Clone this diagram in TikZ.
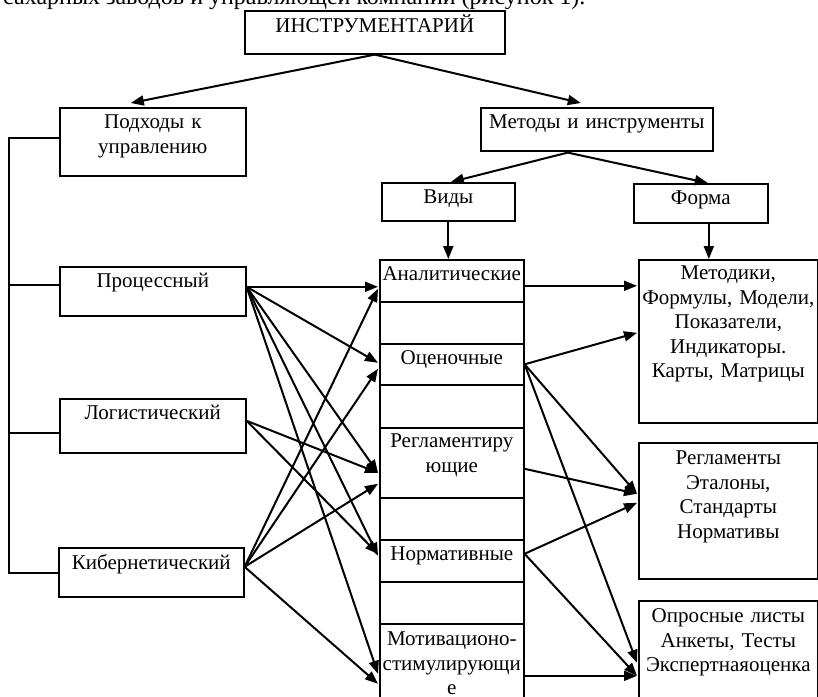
\documentclass[tikz,border=0pt]{standalone}
\usepackage{fontspec}
\setmainfont{Liberation Serif}
\usetikzlibrary{arrows.meta,calc}
\tikzset{
  bx/.style={draw, line width=1.6pt, inner sep=0pt, anchor=north west, align=center,
    font=\fontsize{21}{24.5}\selectfont},
  ebx/.style={draw, line width=1.6pt, inner sep=0pt, anchor=north west, minimum width=144pt},
  arr/.style={line width=2pt, -{Triangle[length=13pt,width=10pt]}},
  ln/.style={line width=1.6pt},
}
\begin{document}
\begin{tikzpicture}[x=1pt,y=-1pt]
\useasboundingbox (0,0) rectangle (818,696);
% cut-off caption line
\node[anchor=base west, inner sep=0pt, font=\fontsize{24}{28}\selectfont] (cap) at (3,4.5) {сахарных заводов и управляющей компании (рисунок 1).};
% top boxes
\node[bx, text width=260pt, text height=21.5pt, text depth=21.5pt] (instr) at (244,10) {ИНСТРУМЕНТАРИЙ};
\node[bx, text width=186pt, text height=21pt, text depth=47pt] (podh) at (59,107) {Подходы к\\управлению};
\node[bx, text width=232pt, text height=21pt, text depth=22pt] (meth) at (480,107) {Методы и инструменты};
\node[bx, text width=133pt, text height=21pt, text depth=17pt] (vid) at (381,182) {Виды};
\node[bx, text width=134pt, text height=21pt, text depth=18pt] (form) at (633,183) {Форма};
% approaches
\node[bx, text width=186pt, text height=21pt, text depth=28pt] (proc) at (59,266) {Процессный};
\node[bx, text width=186pt, text height=21pt, text depth=33pt] (logist) at (59,398) {Логистический};
\node[bx, text width=185pt, text height=22pt, text depth=27pt] (kib) at (58,547) {Кибернетический};
% middle column
\node[bx, text width=144pt, text height=21pt, text depth=21pt] (anal) at (379,259) {\mbox{Аналитические}};
\node[ebx, minimum height=42pt] (e1) at (379,301) {};
\node[bx, text width=144pt, text height=21pt, text depth=20pt] (ocen) at (379,343) {Оценочные};
\node[ebx, minimum height=43pt] (e2) at (379,384) {};
\node[bx, text width=144pt, text height=20pt, text depth=50pt] (regl) at (379,427) {\mbox{Регламентиру}\\ющие};
\node[ebx, minimum height=42pt] (e3) at (379,497) {};
\node[bx, text width=144pt, text height=21pt, text depth=21pt] (norm) at (379,539) {Нормативные};
\node[ebx, minimum height=42pt] (e4) at (379,581) {};
\node[bx, text width=144pt, text height=22pt, text depth=53pt] (motiv) at (379,623) {\mbox{Мотивационо-}\\\mbox{стимулирующи}\\е};
% right column
\node[bx, text width=179pt, text height=20pt, text depth=143pt] (metod) at (638,259) {Методики,\\\mbox{Формулы, Модели,}\\Показатели,\\Индикаторы.\\\mbox{Карты, Матрицы}};
\node[bx, text width=179pt, text height=22pt, text depth=114pt] (reglm) at (638,442) {Регламенты\\Эталоны,\\Стандарты\\Нормативы};
\node[bx, text width=179pt, text height=22pt, text depth=78pt] (opros) at (638,600) {\mbox{Опросные листы}\\\mbox{Анкеты, Тесты}\\\mbox{Экспертнаяоценка}};
% bus on the left
\coordinate (bustop) at (9,138);
\coordinate (busbot) at (9,573);
\draw[ln] (podh.west |- bustop) -- (bustop) -- (busbot) -- (kib.west |- busbot);
\draw[ln] ($(proc.west)+(0,-6.5)$) -- ++(-50,0);
\draw[ln] ($(logist.west)+(0,7)$) -- ++(-50,0);
% top arrows
\draw[arr] (instr.south) -- ($(podh.north)+(-22,-4)$);
\draw[arr] (instr.south) -- ($(meth.north)+(-16,-4)$);
\draw[arr] ($(meth.south)+(-29,1)$) -- ($(vid.north)+(2.5,0)$);
\draw[arr] ($(meth.south)+(-29,1)$) -- ($(form.north)+(7,0)$);
\draw[arr] (vid.south) -- (vid.south |- anal.north);
\coordinate (fs) at ($(form.south)+(8,0)$);
\draw[arr] (fs) -- (fs |- metod.north);
% from Процессный
\coordinate (po) at ($(proc.east)+(0,-4.5)$);
\draw[arr] (po) -- ($(anal.west)+(-1,6)$);
\draw[arr] (po) -- ($(ocen.west)+(-1,-1.5)$);
\draw[arr] (po) -- ($(regl.west)+(-1,10)$);
\draw[arr] (po) -- ($(norm.west)+(-1,-5)$);
\draw[arr] (po) -- ($(motiv.west)+(-1,12.5)$);
% from Логистический
\coordinate (lo) at ($(logist.east)+(0,-5)$);
\draw[arr] (lo) -- ($(regl.west)+(-1,10)$);
\draw[arr] (lo) -- ($(norm.west)+(-1,-7)$);
% from Кибернетический
\coordinate (ko) at ($(kib.east)+(0,-5.5)$);
\draw[arr] (ko) -- ($(anal.west)+(-1,8)$);
\draw[arr] (ko) -- ($(ocen.west)+(-1,4.5)$);
\draw[arr] (ko) -- ($(regl.west)+(-1,21)$);
\draw[arr] (ko) -- ($(motiv.west)+(-1,22.5)$);
% right side
\draw[arr] ($(anal.east)+(0,5)$) -- ($(metod.west)+(-1,-55.5)$);
\draw[arr] (ocen.east) -- ($(metod.west)+(-1,-8.5)$);
\draw[arr] (ocen.east) -- ($(reglm.west)+(-1,-17)$);
\draw[arr] (ocen.east) -- ($(opros.west)+(-1,12)$);
\draw[arr] ($(regl.east)+(0,6)$) -- ($(reglm.west)+(-1,-17)$);
\draw[arr] ($(norm.east)+(0,-7)$) -- ($(reglm.west)+(-1,-8)$);
\draw[arr] ($(norm.east)+(0,-7)$) -- ($(opros.west)+(-1,25)$);
\draw[arr] ($(motiv.east)+(0,14.5)$) -- ($(opros.west)+(-1,25)$);
\end{tikzpicture}
\end{document}
